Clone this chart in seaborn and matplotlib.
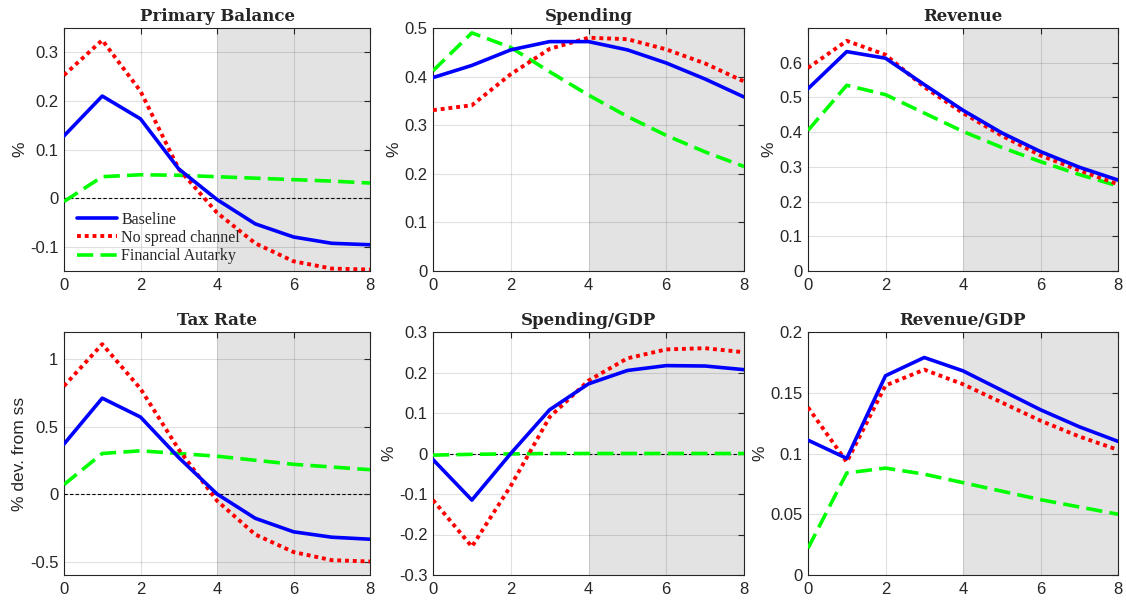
import numpy as np
import pandas as pd
import matplotlib
matplotlib.use("Agg")
import matplotlib.pyplot as plt
from matplotlib.ticker import FuncFormatter
import seaborn as sns

quarters = [0, 1, 2, 3, 4, 5, 6, 7, 8]
series_names = ["Baseline", "No spread channel", "Financial Autarky"]
panel_titles = ["Primary Balance", "Spending", "Revenue", "Tax Rate", "Spending/GDP", "Revenue/GDP"]
ylabels = ["%", "%", "%", "% dev. from ss", "%", "%"]

pb_base = [0.128, 0.21, 0.163, 0.06, -0.003, -0.053, -0.08, -0.093, -0.096]
pb_nospread = [0.253, 0.325, 0.22, 0.06, -0.03, -0.093, -0.13, -0.145, -0.147]
pb_autarky = [-0.007, 0.044, 0.048, 0.047, 0.044, 0.041, 0.038, 0.035, 0.031]

sp_base = [0.398, 0.423, 0.455, 0.472, 0.472, 0.455, 0.428, 0.395, 0.358]
sp_nospread = [0.331, 0.341, 0.405, 0.457, 0.48, 0.477, 0.456, 0.427, 0.39]
sp_autarky = [0.412, 0.49, 0.46, 0.41, 0.362, 0.318, 0.279, 0.245, 0.215]

rv_base = [0.525, 0.632, 0.613, 0.537, 0.463, 0.398, 0.344, 0.299, 0.262]
rv_nospread = [0.585, 0.663, 0.623, 0.53, 0.455, 0.39, 0.333, 0.29, 0.25]
rv_autarky = [0.405, 0.535, 0.508, 0.455, 0.402, 0.356, 0.315, 0.278, 0.245]

tx_base = [0.37, 0.71, 0.57, 0.27, 0.0, -0.18, -0.28, -0.32, -0.335]
tx_nospread = [0.8, 1.11, 0.78, 0.33, -0.05, -0.3, -0.43, -0.49, -0.5]
tx_autarky = [0.07, 0.3, 0.32, 0.3, 0.28, 0.25, 0.22, 0.2, 0.18]

sg_base = [-0.015, -0.115, 0.0, 0.108, 0.172, 0.205, 0.217, 0.216, 0.207]
sg_nospread = [-0.115, -0.23, -0.08, 0.09, 0.18, 0.235, 0.257, 0.26, 0.25]
sg_autarky = [-0.004, -0.002, -0.001, 0.0, 0.0, 0.0, 0.0, 0.0, 0.0]

rg_base = [0.111, 0.096, 0.164, 0.179, 0.168, 0.152, 0.136, 0.122, 0.11]
rg_nospread = [0.138, 0.093, 0.156, 0.169, 0.157, 0.142, 0.127, 0.114, 0.103]
rg_autarky = [0.022, 0.084, 0.088, 0.083, 0.076, 0.069, 0.062, 0.056, 0.05]

panels = [
    (pb_base, pb_nospread, pb_autarky),
    (sp_base, sp_nospread, sp_autarky),
    (rv_base, rv_nospread, rv_autarky),
    (tx_base, tx_nospread, tx_autarky),
    (sg_base, sg_nospread, sg_autarky),
    (rg_base, rg_nospread, rg_autarky),
]
ylims = [(-0.15, 0.35), (0, 0.5), (0, 0.7), (-0.6, 1.2), (-0.3, 0.3), (0, 0.2)]
yticks = [
    [-0.1, 0, 0.1, 0.2, 0.3],
    [0, 0.1, 0.2, 0.3, 0.4, 0.5],
    [0, 0.1, 0.2, 0.3, 0.4, 0.5, 0.6],
    [-0.5, 0, 0.5, 1],
    [-0.3, -0.2, -0.1, 0, 0.1, 0.2, 0.3],
    [0, 0.05, 0.1, 0.15, 0.2],
]
zero_line = [True, False, False, True, True, False]

sns.set_theme(style="white")
plt.rcParams['font.family'] = ['Liberation Sans', 'DejaVu Sans']

colors = ["#0000ff", "#ff0000", "#00ff00"]
styles = ["-", (0, (1, 1)), (0, (4.5, 2))]
widths = [2.6, 2.8, 2.6]

fig = plt.figure(figsize=(11.26, 6.05), dpi=100)
lefts = [64, 433, 808]
rights = [370, 744, 1118]
tops = [28, 332]
bottoms = [271, 575]
W, H = 1126, 605

fmt = FuncFormatter(lambda v, p: ("%g" % v) if abs(v) > 1e-12 else "0")

for i in range(6):
    r, c = divmod(i, 3)
    ax = fig.add_axes([lefts[c] / W, 1 - bottoms[r] / H,
                       (rights[c] - lefts[c]) / W, (bottoms[r] - tops[r]) / H])
    ax.axvspan(4, 8, color="#e3e3e3", zorder=0, lw=0)
    ax.grid(True, color="#000000", alpha=0.12, lw=0.8, zorder=1)
    ax.set_axisbelow(False)
    if zero_line[i]:
        ax.axhline(0, color="black", lw=0.8, ls=(0, (3, 2)), zorder=2)
    df = pd.DataFrame({"t": quarters * 3,
                       "v": list(panels[i][0]) + list(panels[i][1]) + list(panels[i][2]),
                       "s": [series_names[0]] * 9 + [series_names[1]] * 9 + [series_names[2]] * 9})
    for k, name in enumerate(series_names):
        sub = df[df["s"] == name]
        sns.lineplot(data=sub, x="t", y="v", ax=ax, color=colors[k], linestyle=styles[k],
                     linewidth=widths[k], label=name if i == 0 else None, zorder=3 + (2 - k))
    ax.set_xlim(0, 8)
    ax.set_ylim(*ylims[i])
    ax.set_xticks([0, 2, 4, 6, 8])
    ax.set_yticks(yticks[i])
    ax.yaxis.set_major_formatter(fmt)
    ax.xaxis.set_major_formatter(fmt)
    ax.tick_params(direction="in", length=4, width=0.8, top=True, right=True,
                   labelsize=12, colors="#262626", pad=4)
    ax.tick_params(axis="x", pad=5)
    for sp in ax.spines.values():
        sp.set_color("#262626")
        sp.set_linewidth(0.8)
        sp.set_visible(True)
    ax.set_xlabel("")
    ax.set_ylabel(ylabels[i], fontsize=12.5, color="#262626", labelpad=2)
    ax.set_title(panel_titles[i], fontsize=12, fontweight="bold",
                 family=["DejaVu Serif"], pad=5)
    if i == 0:
        ax.legend(loc="lower left", frameon=False,
                  prop={"family": "Liberation Serif", "size": 11.5},
                  handlelength=2.5, handletextpad=0.3, labelspacing=0.15,
                  borderaxespad=0.2, bbox_to_anchor=(0.01, -0.012))
    else:
        lg = ax.get_legend()
        if lg is not None:
            lg.remove()

fig.savefig("out.png", dpi=100)
